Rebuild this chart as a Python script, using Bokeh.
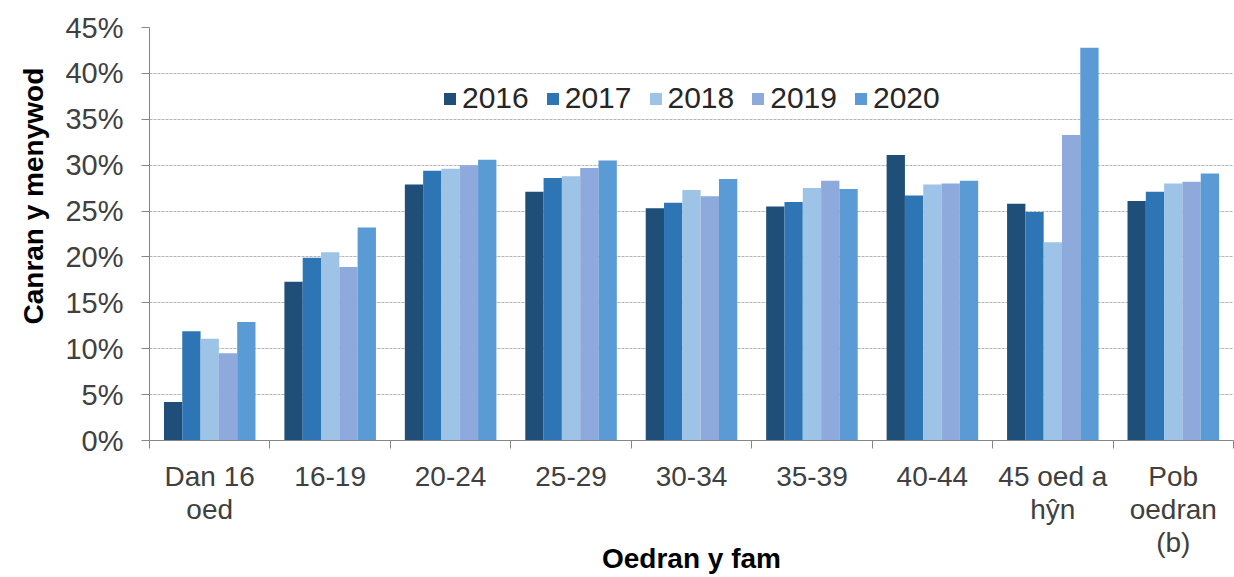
from bokeh.plotting import figure
from bokeh.models import (ColumnDataSource, Range1d, FixedTicker, PrintfTickFormatter,
                          Legend, LegendItem, Title)
from bokeh.transform import dodge
from bokeh.embed import file_html
from bokeh.resources import INLINE

categories = ["Dan 16\noed", "16-19", "20-24", "25-29", "30-34", "35-39", "40-44",
              "45 oed a\nhŷn", "Pob\noedran\n(b)"]
years = ["2016", "2017", "2018", "2019", "2020"]
v2016 = [4.2, 17.3, 27.9, 27.1, 25.3, 25.5, 31.1, 25.8, 26.1]
v2017 = [11.9, 19.9, 29.4, 28.6, 25.9, 26.0, 26.7, 24.9, 27.1]
v2018 = [11.1, 20.5, 29.6, 28.8, 27.3, 27.5, 27.9, 21.6, 28.0]
v2019 = [9.5, 18.9, 30.0, 29.7, 26.6, 28.3, 28.0, 33.3, 28.2]
v2020 = [12.9, 23.2, 30.6, 30.5, 28.5, 27.4, 28.3, 42.8, 29.1]
colors = ["#1F4E79", "#2E75B6", "#9DC3E6", "#8EA9DB", "#5B9BD5"]
y_ticks = [0, 5, 10, 15, 20, 25, 30, 35, 40, 45]

FONT = "Liberation Sans"
pos = list(range(1, len(categories) + 1))
src = ColumnDataSource(dict(x=pos, y2016=v2016, y2017=v2017, y2018=v2018,
                            y2019=v2019, y2020=v2020))

p = figure(width=1234, height=577, output_backend="svg", toolbar_location=None,
           x_range=Range1d(0.5, len(categories) + 0.5), y_range=Range1d(0, 45),
           min_border_left=149, min_border_right=1, min_border_top=27,
           min_border_bottom=135)
p.outline_line_color = None
p.background_fill_color = "white"

bw = 0.152
renderers = []
for j, (yr, col) in enumerate(zip(years, colors)):
    r = p.vbar(x=dodge("x", (j - 2) * bw, range=p.x_range), top="y" + yr, width=bw,
               source=src, fill_color=col, line_color=None)
    renderers.append(r)

# axes
yax = p.yaxis[0]
yax.ticker = FixedTicker(ticks=y_ticks)
yax.formatter = PrintfTickFormatter(format="%d%%")
yax.axis_line_color = "#868686"
yax.major_tick_line_color = "#868686"
yax.major_tick_out = 8
yax.major_tick_in = 0
yax.minor_tick_line_color = None
yax.major_label_standoff = 18
yax.major_label_text_font = FONT
yax.major_label_text_font_size = "29px"
yax.major_label_text_color = "#404040"

xax = p.xaxis[0]
xax.ticker = FixedTicker(ticks=pos, minor_ticks=[i + 0.5 for i in range(len(categories) + 1)])
xax.major_label_overrides = {i: c for i, c in zip(pos, categories)}
xax.axis_line_color = "#868686"
xax.major_tick_line_color = None
xax.major_tick_out = 0
xax.major_tick_in = 0
xax.minor_tick_line_color = "#868686"
xax.minor_tick_out = 8
xax.minor_tick_in = 0
xax.major_label_standoff = 12
xax.major_label_text_font = FONT
xax.major_label_text_font_size = "28px"
xax.major_label_text_line_height = 1.08
xax.major_label_text_color = "#404040"
xax.axis_label = "Oedran y fam"
xax.axis_label_standoff = -18
xax.axis_label_text_font = FONT
xax.axis_label_text_font_style = "bold"
xax.axis_label_text_font_size = "28px"
xax.axis_label_text_color = "black"

p.xgrid.grid_line_color = None
p.ygrid.ticker = FixedTicker(ticks=y_ticks[1:])
p.ygrid.grid_line_color = "#B4B4B4"
p.ygrid.grid_line_dash = "3 1"
p.ygrid.grid_line_width = 1

# y axis title (placed above the frame centre, as in the reference)
p.add_layout(Title(text="Canran y menywod", align="left", offset=116, standoff=28,
                   text_font=FONT, text_font_style="bold", text_font_size="28px",
                   text_color="black"), "left")

legend = Legend(items=[LegendItem(label=yr, renderers=[r]) for yr, r in zip(years, renderers)],
                orientation="horizontal", location=(293, 325))
legend.background_fill_alpha = 0
legend.border_line_color = None
legend.padding = 0
legend.margin = 0
legend.spacing = 16
legend.glyph_width = 15
legend.glyph_height = 15
legend.label_standoff = 5
legend.label_height = 15
legend.label_text_font = FONT
legend.label_text_font_size = "30px"
legend.label_text_color = "#262626"
p.add_layout(legend)

open("out.html", "w").write(file_html(p, INLINE))
